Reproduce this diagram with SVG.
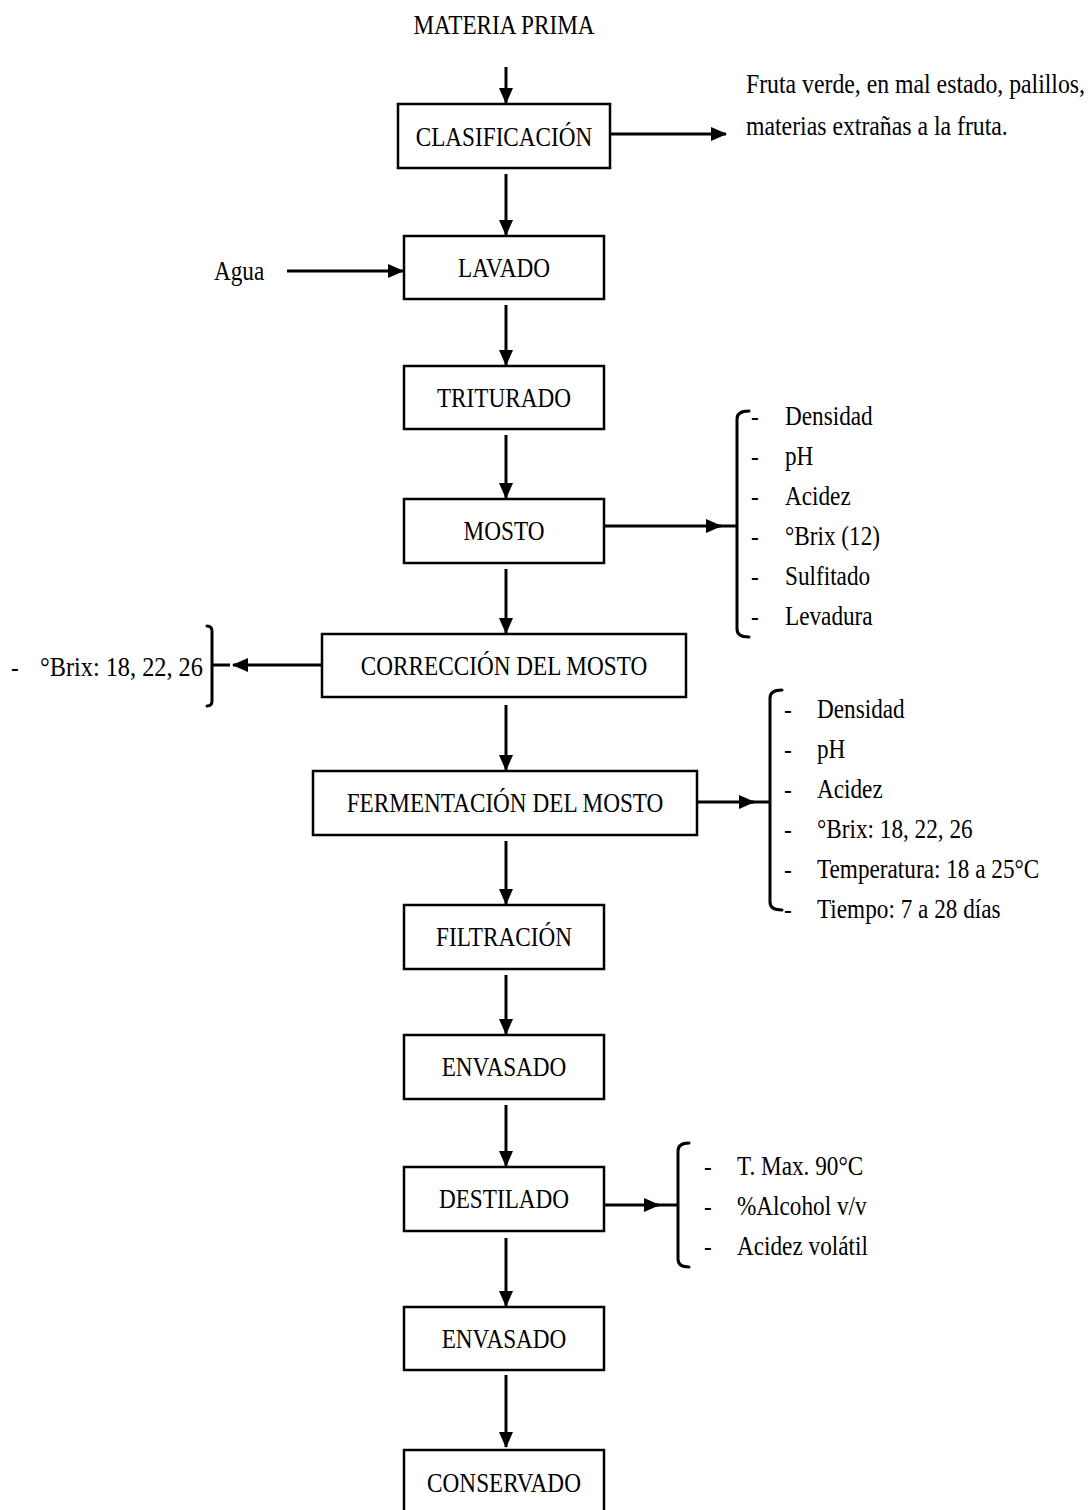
<svg xmlns="http://www.w3.org/2000/svg" width="1090" height="1510" viewBox="0 0 1090 1510">
<defs>
<style>
.t{font-family:"Liberation Serif","Times New Roman",serif;font-size:27px;fill:#000}
.c{text-anchor:middle}
.box{fill:#fff;stroke:#000;stroke-width:2.5}
.ln{fill:none;stroke:#000;stroke-width:3}
.br{fill:none;stroke:#000;stroke-width:3;stroke-linecap:round;stroke-linejoin:round}
</style>
<marker id="ah" markerUnits="userSpaceOnUse" markerWidth="16" markerHeight="14" refX="15" refY="7" orient="auto">
<path d="M0,0 L16,7 L0,14 z" fill="#000"/>
</marker>
</defs>
<rect width="1090" height="1510" fill="#fff"/>

<g id="connectors">
<path class="ln" d="M506,67 V103" marker-end="url(#ah)"/>
<path class="ln" d="M506,174 V235" marker-end="url(#ah)"/>
<path class="ln" d="M506,305 V365" marker-end="url(#ah)"/>
<path class="ln" d="M506,435 V498" marker-end="url(#ah)"/>
<path class="ln" d="M506,569 V633" marker-end="url(#ah)"/>
<path class="ln" d="M506,705 V770" marker-end="url(#ah)"/>
<path class="ln" d="M506,841 V904" marker-end="url(#ah)"/>
<path class="ln" d="M506,975 V1034" marker-end="url(#ah)"/>
<path class="ln" d="M506,1105 V1166" marker-end="url(#ah)"/>
<path class="ln" d="M506,1238 V1306" marker-end="url(#ah)"/>
<path class="ln" d="M506,1375 V1447" marker-end="url(#ah)"/>
<path class="ln" d="M610,134 H726" marker-end="url(#ah)"/>
<path class="ln" d="M287,271 H403" marker-end="url(#ah)"/>
<path class="ln" d="M604,526 H721" marker-end="url(#ah)"/>
<path class="ln" d="M716,526 H737"/>
<path class="ln" d="M322,665 H233" marker-end="url(#ah)"/>
<path class="ln" d="M230,665 H212"/>
<path class="ln" d="M697,802 H754" marker-end="url(#ah)"/>
<path class="ln" d="M750,802 H770"/>
<path class="ln" d="M604,1205 H659" marker-end="url(#ah)"/>
<path class="ln" d="M655,1205 H678"/>
</g>

<g id="materia-prima">
<text class="t c" transform="translate(504,34) scale(0.86,1)">MATERIA PRIMA</text>
</g>
<g id="clasificacion">
<rect class="box" x="398" y="104" width="212" height="64"/>
<text class="t c" transform="translate(504,146) scale(0.86,1)">CLASIFICACIÓN</text>
</g>
<g id="residuos">
<text class="t" transform="translate(746,93) scale(0.88,1)">Fruta verde, en mal estado, palillos,</text>
<text class="t" transform="translate(746,135) scale(0.88,1)">materias extrañas a la fruta.</text>
</g>
<g id="agua">
<text class="t" transform="translate(214,280) scale(0.86,1)">Agua</text>
</g>
<g id="lavado">
<rect class="box" x="404" y="236" width="200" height="63"/>
<text class="t c" transform="translate(504,277) scale(0.86,1)">LAVADO</text>
</g>
<g id="triturado">
<rect class="box" x="404" y="366" width="200" height="63"/>
<text class="t c" transform="translate(504,407) scale(0.86,1)">TRITURADO</text>
</g>
<g id="mosto">
<rect class="box" x="404" y="499" width="200" height="64"/>
<text class="t c" transform="translate(504,540) scale(0.86,1)">MOSTO</text>
</g>
<g id="mosto-params">
<path class="br" d="M749,411 Q737,411 737,419 V629 Q737,637 749,637"/>
<text class="t" transform="translate(751,425) scale(0.86,1)">-</text>
<text class="t" transform="translate(751,465) scale(0.86,1)">-</text>
<text class="t" transform="translate(751,505) scale(0.86,1)">-</text>
<text class="t" transform="translate(751,545) scale(0.86,1)">-</text>
<text class="t" transform="translate(751,585) scale(0.86,1)">-</text>
<text class="t" transform="translate(751,625) scale(0.86,1)">-</text>
<text class="t" transform="translate(785,425) scale(0.86,1)">Densidad</text>
<text class="t" transform="translate(785,465) scale(0.86,1)">pH</text>
<text class="t" transform="translate(785,505) scale(0.86,1)">Acidez</text>
<text class="t" transform="translate(785,545) scale(0.86,1)">°Brix (12)</text>
<text class="t" transform="translate(785,585) scale(0.86,1)">Sulfitado</text>
<text class="t" transform="translate(785,625) scale(0.86,1)">Levadura</text>
</g>
<g id="correccion">
<rect class="box" x="322" y="634" width="364" height="63"/>
<text class="t c" transform="translate(504,675) scale(0.86,1)">CORRECCIÓN DEL MOSTO</text>
</g>
<g id="correccion-params">
<path class="br" d="M207,626 Q212,626 212,631 V701 Q212,706 207,706"/>
<text class="t" transform="translate(11,676) scale(0.86,1)">-</text>
<text class="t" transform="translate(40,676) scale(0.9,1)">°Brix: 18, 22, 26</text>
</g>
<g id="fermentacion">
<rect class="box" x="313" y="771" width="384" height="64"/>
<text class="t c" transform="translate(505,812) scale(0.86,1)">FERMENTACIÓN DEL MOSTO</text>
</g>
<g id="fermentacion-params">
<path class="br" d="M782,690 Q770,690 770,698 V902 Q770,910 782,910"/>
<text class="t" transform="translate(784,718) scale(0.86,1)">-</text>
<text class="t" transform="translate(784,758) scale(0.86,1)">-</text>
<text class="t" transform="translate(784,798) scale(0.86,1)">-</text>
<text class="t" transform="translate(784,838) scale(0.86,1)">-</text>
<text class="t" transform="translate(784,878) scale(0.86,1)">-</text>
<text class="t" transform="translate(784,918) scale(0.86,1)">-</text>
<text class="t" transform="translate(817,718) scale(0.86,1)">Densidad</text>
<text class="t" transform="translate(817,758) scale(0.86,1)">pH</text>
<text class="t" transform="translate(817,798) scale(0.86,1)">Acidez</text>
<text class="t" transform="translate(817,838) scale(0.86,1)">°Brix: 18, 22, 26</text>
<text class="t" transform="translate(817,878) scale(0.86,1)">Temperatura: 18 a 25°C</text>
<text class="t" transform="translate(817,918) scale(0.86,1)">Tiempo: 7 a 28 días</text>
</g>
<g id="filtracion">
<rect class="box" x="404" y="905" width="200" height="64"/>
<text class="t c" transform="translate(504,946) scale(0.86,1)">FILTRACIÓN</text>
</g>
<g id="envasado1">
<rect class="box" x="404" y="1035" width="200" height="64"/>
<text class="t c" transform="translate(504,1076) scale(0.86,1)">ENVASADO</text>
</g>
<g id="destilado">
<rect class="box" x="404" y="1167" width="200" height="64"/>
<text class="t c" transform="translate(504,1208) scale(0.86,1)">DESTILADO</text>
</g>
<g id="destilado-params">
<path class="br" d="M689,1143 Q678,1143 678,1151 V1259 Q678,1267 689,1267"/>
<text class="t" transform="translate(704,1175) scale(0.86,1)">-</text>
<text class="t" transform="translate(704,1215) scale(0.86,1)">-</text>
<text class="t" transform="translate(704,1255) scale(0.86,1)">-</text>
<text class="t" transform="translate(737,1175) scale(0.86,1)">T. Max. 90°C</text>
<text class="t" transform="translate(737,1215) scale(0.86,1)">%Alcohol v/v</text>
<text class="t" transform="translate(737,1255) scale(0.86,1)">Acidez volátil</text>
</g>
<g id="envasado2">
<rect class="box" x="404" y="1307" width="200" height="63"/>
<text class="t c" transform="translate(504,1348) scale(0.86,1)">ENVASADO</text>
</g>
<g id="conservado">
<rect class="box" x="404" y="1450" width="200" height="80"/>
<text class="t c" transform="translate(504,1492) scale(0.86,1)">CONSERVADO</text>
</g>
</svg>
